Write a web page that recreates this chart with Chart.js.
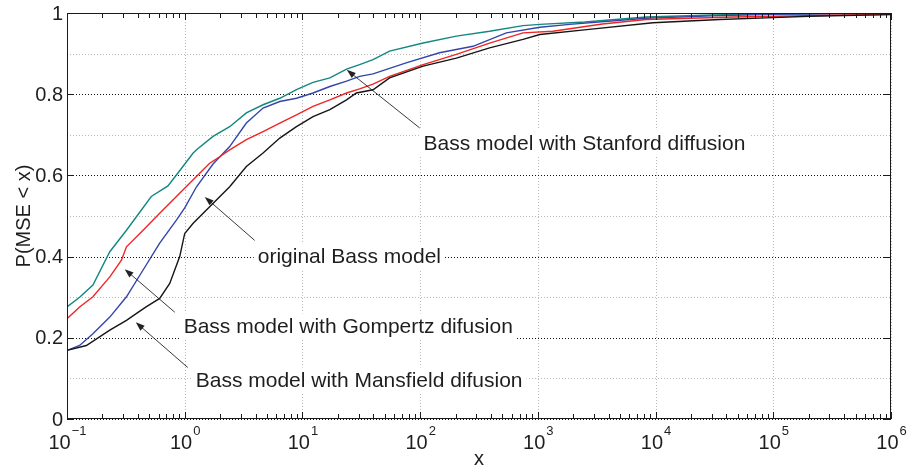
<!DOCTYPE html>
<html>
<head>
<meta charset="utf-8">
<script src="https://cdn.jsdelivr.net/npm/chart.js@4.4.1/dist/chart.umd.min.js"></script>
<style>
  html, body { margin: 0; padding: 0; background: #fff; }
</style>
</head>
<body>
<canvas id="cdf" width="909" height="470"></canvas>
<script>
// Axis ticks
const decades = [0.1, 1, 10, 100, 1000, 10000, 100000, 1000000];
const decadeExps = ['\u22121', '0', '1', '2', '3', '4', '5', '6'];
const yTicks = [0, 0.2, 0.4, 0.6, 0.8, 1];
const yTickLabels = ['0', '0.2', '0.4', '0.6', '0.8', '1'];

const stanfordX = [0.1, 0.128, 0.166, 0.231, 0.32, 0.52, 0.72, 0.85, 1.18, 1.26, 1.74, 2.41, 3.34, 4.63, 6.42, 8.9, 12.3, 17.1, 23.7, 30.6, 39.8, 55, 106, 203, 389, 748, 1040, 2500, 8300, 30000, 100000, 1000000];
const stanfordY = [0.276, 0.30, 0.33, 0.412, 0.465, 0.548, 0.574, 0.601, 0.655, 0.663, 0.696, 0.72, 0.754, 0.774, 0.79, 0.811, 0.829, 0.84, 0.862, 0.873, 0.885, 0.906, 0.926, 0.943, 0.955, 0.969, 0.972, 0.978, 0.99, 0.995, 0.998, 0.999];

const gompertzX = [0.1, 0.128, 0.166, 0.231, 0.32, 0.443, 0.613, 0.85, 1.0, 1.26, 1.74, 2.41, 3.34, 4.63, 6.42, 8.9, 12.3, 17.1, 23.7, 30.6, 39.8, 76, 146, 281, 540, 1040, 1860, 8300, 30000, 100000, 1000000];
const gompertzY = [0.169, 0.181, 0.21, 0.251, 0.301, 0.367, 0.433, 0.49, 0.52, 0.572, 0.628, 0.671, 0.729, 0.766, 0.782, 0.79, 0.803, 0.819, 0.832, 0.844, 0.85, 0.877, 0.902, 0.918, 0.951, 0.965, 0.972, 0.987, 0.993, 0.997, 0.999];

const mansfieldX = [0.1, 0.128, 0.166, 0.231, 0.29, 0.32, 0.443, 0.613, 0.85, 1.18, 1.63, 1.98, 2.41, 3.34, 4.63, 6.42, 8.9, 12.3, 17.1, 23.7, 30.6, 39.8, 55, 106, 203, 389, 748, 1340, 3530, 8300, 45600, 1000000];
const mansfieldY = [0.247, 0.276, 0.301, 0.35, 0.391, 0.424, 0.465, 0.507, 0.548, 0.589, 0.63, 0.646, 0.663, 0.688, 0.708, 0.729, 0.749, 0.77, 0.786, 0.803, 0.813, 0.825, 0.844, 0.873, 0.898, 0.926, 0.951, 0.955, 0.973, 0.984, 0.99, 0.997];

const originalX = [0.1, 0.146, 0.231, 0.32, 0.39, 0.47, 0.613, 0.746, 0.907, 1.0, 1.18, 1.63, 2.41, 3.34, 4.63, 6.42, 8.9, 12.3, 17.1, 23.7, 28.7, 39.8, 55, 106, 203, 389, 748, 1040, 2600, 9500, 35000, 87500, 200000, 1000000];
const originalY = [0.169, 0.181, 0.219, 0.243, 0.26, 0.276, 0.297, 0.334, 0.4, 0.457, 0.482, 0.523, 0.572, 0.622, 0.655, 0.692, 0.72, 0.745, 0.762, 0.786, 0.803, 0.811, 0.84, 0.869, 0.889, 0.914, 0.935, 0.947, 0.959, 0.976, 0.984, 0.988, 0.992, 0.996];

// Text callouts (data coords): label, text anchor, arrow tail, arrow tip
const notes = [
  { text: 'Bass model with Stanford diffusion', at: [107, 0.68], from: [99, 0.717], to: [23.8, 0.86] },
  { text: 'original Bass model', at: [4.17, 0.401], from: [3.93, 0.44], to: [1.48, 0.547] },
  { text: 'Bass model with Gompertz difusion', at: [0.98, 0.228], from: [0.823, 0.263], to: [0.309, 0.369] },
  { text: 'Bass model with Mansfield difusion', at: [1.24, 0.095], from: [1.06, 0.127], to: [0.384, 0.238] }
];

const FONT = '"Liberation Sans", Arial, Helvetica, sans-serif';

function toPoints(xs, ys) {
  return xs.map((x, i) => ({ x, y: ys[i] }));
}

function drawArrow(ctx, x1, y1, x2, y2) {
  const ang = Math.atan2(y2 - y1, x2 - x1);
  const len = 9, half = 3.2;
  ctx.beginPath();
  ctx.moveTo(x1, y1);
  ctx.lineTo(x2 - Math.cos(ang) * len * 0.8, y2 - Math.sin(ang) * len * 0.8);
  ctx.stroke();
  ctx.beginPath();
  ctx.moveTo(x2, y2);
  ctx.lineTo(x2 - Math.cos(ang) * len - Math.sin(ang) * half, y2 - Math.sin(ang) * len + Math.cos(ang) * half);
  ctx.lineTo(x2 - Math.cos(ang) * len + Math.sin(ang) * half, y2 - Math.sin(ang) * len - Math.cos(ang) * half);
  ctx.closePath();
  ctx.fill();
}

const matlabFrame = {
  id: 'matlabFrame',
  // dotted grid, MATLAB style (Chart.js grid lines are turned off)
  beforeDatasetsDraw(chart) {
    const { ctx, chartArea: a, scales: { x, y } } = chart;
    ctx.save();
    ctx.lineWidth = 1;
    ctx.setLineDash([1, 2]);
    x.ticks.forEach(t => {
      const px = Math.round(x.getPixelForValue(t.value)) + 0.5;
      ctx.strokeStyle = '#b8b8b8';
      ctx.beginPath();
      ctx.moveTo(px, a.top);
      ctx.lineTo(px, a.bottom);
      ctx.stroke();
    });
    y.ticks.forEach(t => {
      const major = Math.round(t.value * 10) % 2 === 0;
      const py = Math.round(y.getPixelForValue(t.value)) + 0.5;
      ctx.strokeStyle = major ? '#111' : '#b8b8b8';
      ctx.beginPath();
      ctx.moveTo(a.left, py);
      ctx.lineTo(a.right, py);
      ctx.stroke();
    });
    ctx.restore();
  },
  afterDatasetsDraw(chart) {
    const { ctx, scales: { x, y } } = chart;
    ctx.save();
    ctx.font = '21px ' + FONT;
    ctx.textBaseline = 'middle';
    ctx.textAlign = 'left';
    for (const n of notes) {
      const tx = x.getPixelForValue(n.at[0]);
      const ty = y.getPixelForValue(n.at[1]);
      const w = ctx.measureText(n.text).width;
      ctx.fillStyle = '#fff';
      ctx.fillRect(tx - 4, ty - 13, w + 8, 26);
      ctx.fillStyle = '#1e1e1e';
      ctx.fillText(n.text, tx, ty + 1);
      ctx.strokeStyle = '#222';
      ctx.fillStyle = '#222';
      ctx.lineWidth = 0.9;
      drawArrow(ctx,
        x.getPixelForValue(n.from[0]), y.getPixelForValue(n.from[1]),
        x.getPixelForValue(n.to[0]), y.getPixelForValue(n.to[1]));
    }
    ctx.restore();
  },
  afterDraw(chart) {
    const { ctx, chartArea: a, scales: { x, y } } = chart;
    ctx.save();
    ctx.strokeStyle = '#1a1a1a';
    ctx.lineWidth = 1;
    ctx.strokeRect(a.left + 0.5, a.top + 0.5, a.right - a.left - 1, a.bottom - a.top - 1);

    // x ticks inside, major and minor, bottom and top
    ctx.beginPath();
    decades.forEach((d, i) => {
      for (let m = 1; m <= 9; m++) {
        const v = d * m;
        if (m > 1 && i === decades.length - 1) continue;
        const px = Math.round(x.getPixelForValue(v)) + 0.5;
        const len = m === 1 ? 7 : 5;
        ctx.moveTo(px, a.bottom);
        ctx.lineTo(px, a.bottom - len);
        ctx.moveTo(px, a.top);
        ctx.lineTo(px, a.top + len);
      }
    });
    // y ticks inside, left and right
    yTicks.forEach(v => {
      const py = Math.round(y.getPixelForValue(v)) + 0.5;
      ctx.moveTo(a.left, py);
      ctx.lineTo(a.left + 7, py);
      ctx.moveTo(a.right, py);
      ctx.lineTo(a.right - 7, py);
    });
    ctx.stroke();

    // y tick labels
    ctx.fillStyle = '#1e1e1e';
    ctx.font = '20px ' + FONT;
    ctx.textAlign = 'right';
    ctx.textBaseline = 'middle';
    yTicks.forEach((v, i) => {
      ctx.fillText(yTickLabels[i], a.left - 4, y.getPixelForValue(v) + 1);
    });

    // x tick labels: 10 with superscript exponent
    ctx.textAlign = 'left';
    ctx.textBaseline = 'alphabetic';
    decades.forEach((d, i) => {
      ctx.font = '20px ' + FONT;
      const baseW = ctx.measureText('10').width;
      ctx.font = '13px ' + FONT;
      const expW = ctx.measureText(decadeExps[i]).width;
      const left = x.getPixelForValue(d) - (baseW + expW) / 2;
      ctx.font = '20px ' + FONT;
      ctx.fillText('10', left, a.bottom + 30);
      ctx.font = '13px ' + FONT;
      ctx.fillText(decadeExps[i], left + baseW + 1, a.bottom + 16);
    });

    // axis titles
    ctx.font = '20px ' + FONT;
    ctx.textAlign = 'center';
    ctx.fillText('x', (a.left + a.right) / 2, 465);
    ctx.translate(24, (a.top + a.bottom) / 2);
    ctx.rotate(-Math.PI / 2);
    ctx.textBaseline = 'middle';
    ctx.fillText('P(MSE < x)', 0, 0);
    ctx.restore();
  }
};

const lineStyle = { borderWidth: 1.4, pointRadius: 0, tension: 0, fill: false };

new Chart(document.getElementById('cdf'), {
  type: 'line',
  data: {
    datasets: [
      { label: 'original Bass model', data: toPoints(originalX, originalY), borderColor: '#151515', ...lineStyle },
      { label: 'Mansfield', data: toPoints(mansfieldX, mansfieldY), borderColor: '#ee2626', ...lineStyle },
      { label: 'Gompertz', data: toPoints(gompertzX, gompertzY), borderColor: '#3346a8', ...lineStyle },
      { label: 'Stanford', data: toPoints(stanfordX, stanfordY), borderColor: '#12877f', ...lineStyle }
    ]
  },
  options: {
    responsive: false,
    animation: false,
    layout: { padding: { top: 13, right: 18, left: 0, bottom: 0 } },
    plugins: { legend: { display: false }, tooltip: { enabled: false } },
    scales: {
      x: {
        type: 'logarithmic',
        min: 0.1,
        max: 1000000,
        afterBuildTicks: (s) => { s.ticks = decades.map(v => ({ value: v })); },
        afterFit: (s) => { s.height = 51; },
        ticks: { display: false },
        grid: { display: false },
        border: { display: false }
      },
      y: {
        min: 0,
        max: 1,
        afterFit: (s) => { s.width = 67; },
        ticks: { display: false, stepSize: 0.1 },
        grid: { display: false },
        border: { display: false }
      }
    }
  },
  plugins: [matlabFrame]
});
</script>
</body>
</html>
